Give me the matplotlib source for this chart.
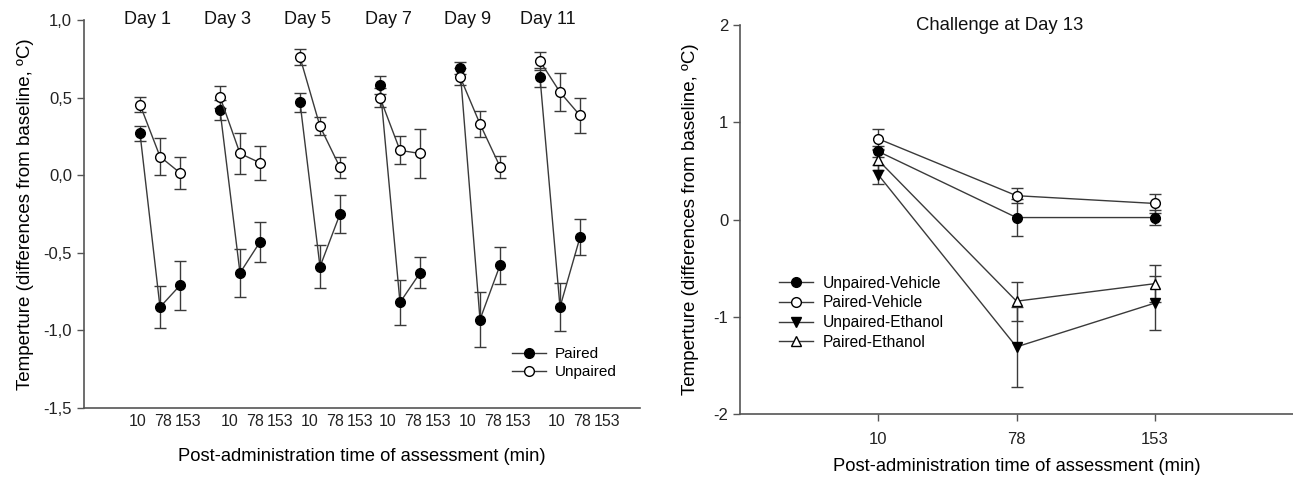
import matplotlib.pyplot as plt
import numpy as np

plt.rcParams['font.family'] = ['Liberation Sans', 'DejaVu Sans']

# left panel: conditioning days
days = ["Day 1", "Day 3", "Day 5", "Day 7", "Day 9", "Day 11"]
times = ["10", "78", "153"]
paired_mean = [[0.27, -0.85, -0.71], [0.42, -0.63, -0.43], [0.47, -0.59, -0.25],
               [0.58, -0.82, -0.63], [0.69, -0.93, -0.58], [0.63, -0.85, -0.40]]
paired_sem = [[0.05, 0.135, 0.16], [0.065, 0.155, 0.13], [0.06, 0.14, 0.12],
              [0.06, 0.145, 0.10], [0.04, 0.18, 0.12], [0.06, 0.155, 0.115]]
unpaired_mean = [[0.455, 0.12, 0.015], [0.505, 0.14, 0.08], [0.76, 0.315, 0.05],
                 [0.50, 0.16, 0.14], [0.635, 0.33, 0.055], [0.735, 0.535, 0.385]]
unpaired_sem = [[0.05, 0.12, 0.105], [0.07, 0.135, 0.11], [0.05, 0.057, 0.07],
                [0.06, 0.09, 0.16], [0.055, 0.085, 0.07], [0.06, 0.123, 0.113]]
left_yticks = [1.0, 0.5, 0.0, -0.5, -1.0, -1.5]
left_yticklabels = ["1,0", "0,5", "0,0", "-0,5", "-1,0", "-1,5"]

# right panel: challenge day
challenge_times = ["10", "78", "153"]
groups = ["Unpaired-Vehicle", "Paired-Vehicle", "Unpaired-Ethanol", "Paired-Ethanol"]
uv_mean = [0.70, 0.02, 0.02]
uv_sem = [0.06, 0.19, 0.08]
pv_mean = [0.83, 0.245, 0.165]
pv_sem = [0.10, 0.08, 0.10]
ue_mean = [0.46, -1.31, -0.86]
ue_sem = [0.10, 0.41, 0.28]
pe_mean = [0.61, -0.84, -0.66]
pe_sem = [0.10, 0.20, 0.19]
right_yticks = [2, 1, 0, -1, -2]

LINE = "#3a3a3a"
SPINE = "#555555"
YLABEL = "Temperture (differences from baseline, ºC)"
XLABEL = "Post-administration time of assessment (min)"
# the hand-set tick labels under each day sit a bit off the points
label_shift = [-0.1, 0.5, 0.5, 0.4, 0.4, 0.85]


def style_axes(ax):
    for side in ("top", "right"):
        ax.spines[side].set_visible(False)
    for side in ("left", "bottom"):
        ax.spines[side].set_color(SPINE)
        ax.spines[side].set_linewidth(1.2)
    ax.tick_params(colors="#222222", width=1.0, length=5, color=SPINE)


def series(ax, x, y, err, marker, face, ms=7):
    cont = ax.errorbar(x, y, yerr=err, color=LINE, lw=1.0, ecolor=LINE, elinewidth=1.0,
                       capsize=4.5, capthick=1.0, marker=marker, ms=ms, mfc=face,
                       mec="black", mew=1.0)
    return cont[0]


fig = plt.figure(figsize=(12.93, 4.79), dpi=100)

# ---- left
ax1 = fig.add_axes([84 / 1293, 71 / 479, 556 / 1293, 388 / 479])
style_axes(ax1)
xs_all, lbl_all = [], []
for g, day in enumerate(days):
    x = 4 * g + np.arange(3)
    h_p = series(ax1, x, paired_mean[g], paired_sem[g], "o", "black")
    h_u = series(ax1, x, unpaired_mean[g], unpaired_sem[g], "o", "white")
    ax1.text(x[0] + 0.4, 1.0, day, ha="center", va="center", fontsize=13, color="#111111")
    xs_all.extend(4 * g + label_shift[g] + 1.25 * np.arange(3))
    lbl_all.extend(times)
ax1.set_xlim(-2.8, 25)
ax1.set_ylim(-1.5, 1.0)
ax1.set_yticks(left_yticks)
ax1.set_yticklabels(left_yticklabels, fontsize=12)
ax1.set_xticks(xs_all)
ax1.set_xticklabels(lbl_all, fontsize=11.5)
ax1.tick_params(axis="x", length=0, pad=4)
ax1.set_ylabel(YLABEL, fontsize=13.5, labelpad=7)
ax1.set_xlabel(XLABEL, fontsize=13.2, labelpad=14)
ax1.legend([h_p, h_u], ["Paired", "Unpaired"], loc="lower left",
           bbox_to_anchor=(0.77, 0.075), frameon=False, fontsize=11,
           handlelength=2.2, handletextpad=0.6, labelspacing=0.25, borderpad=0,
           borderaxespad=0)

# ---- right
ax2 = fig.add_axes([740 / 1293, 65 / 479, 553 / 1293, 389 / 479])
style_axes(ax2)
xr = np.arange(1, len(challenge_times) + 1)
handles = [
    series(ax2, xr, uv_mean, uv_sem, "o", "black"),
    series(ax2, xr, pv_mean, pv_sem, "o", "white"),
    series(ax2, xr, ue_mean, ue_sem, "v", "black"),
    series(ax2, xr, pe_mean, pe_sem, "^", "white"),
]
ax2.set_xlim(0, 4)
ax2.set_ylim(-2, 2)
ax2.set_yticks(right_yticks)
ax2.set_yticklabels([str(v) for v in right_yticks], fontsize=12)
ax2.set_xticks(xr)
ax2.set_xticklabels(challenge_times, fontsize=12)
ax2.tick_params(axis="x", pad=8)
ax2.set_ylabel(YLABEL, fontsize=13.5, labelpad=10)
ax2.set_xlabel(XLABEL, fontsize=13.2, labelpad=8)
ax2.text(0.47, 1.0, "Challenge at Day 13", transform=ax2.transAxes, ha="center",
         va="center", fontsize=13.3, color="#111111")
ax2.legend(handles, groups, loc="lower left", bbox_to_anchor=(0.07, 0.165), frameon=False,
           fontsize=11.2, handlelength=2.2, handletextpad=0.6, labelspacing=0.3,
           borderpad=0, borderaxespad=0)

fig.savefig("out.png", dpi=100)
